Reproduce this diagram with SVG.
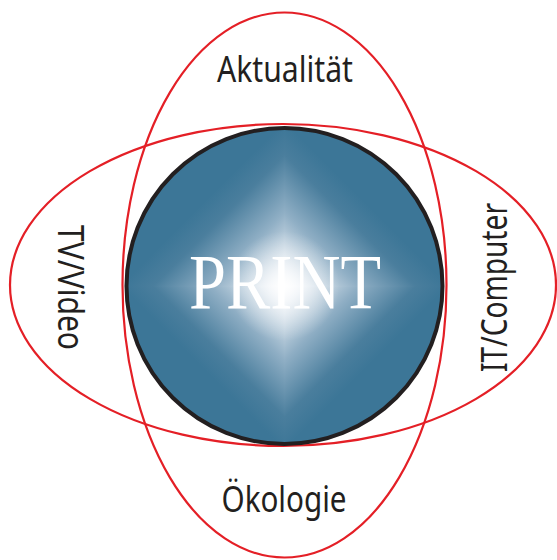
<svg xmlns="http://www.w3.org/2000/svg" width="557" height="560" viewBox="0 0 557 560">
<style>
.ring{fill:none;stroke:#e41f26;stroke-width:2.2}
.lbl{font-family:"Noto Sans","Liberation Sans",sans-serif;font-size:36px;fill:#231f20;text-anchor:middle}
.print{font-family:"Liberation Serif","DejaVu Serif",serif;font-size:78px;fill:#ffffff;text-anchor:middle}
</style>
<defs>
<clipPath id="cc"><circle cx="284.5" cy="286" r="158"/></clipPath>
<linearGradient id="gBR" gradientUnits="userSpaceOnUse" x1="284.5" y1="286" x2="366.5" y2="368">
<stop offset="0" stop-color="#ffffff"/><stop offset="0.12" stop-color="#e4ebf2"/><stop offset="0.45" stop-color="#90afc5"/><stop offset="0.8" stop-color="#4a7e9d"/><stop offset="1" stop-color="#3c7697"/>
</linearGradient>
<linearGradient id="gBL" gradientUnits="userSpaceOnUse" x1="284.5" y1="286" x2="202.5" y2="368">
<stop offset="0" stop-color="#ffffff"/><stop offset="0.12" stop-color="#e4ebf2"/><stop offset="0.45" stop-color="#90afc5"/><stop offset="0.8" stop-color="#4a7e9d"/><stop offset="1" stop-color="#3c7697"/>
</linearGradient>
<linearGradient id="gTR" gradientUnits="userSpaceOnUse" x1="284.5" y1="286" x2="366.5" y2="204">
<stop offset="0" stop-color="#ffffff"/><stop offset="0.12" stop-color="#e4ebf2"/><stop offset="0.45" stop-color="#90afc5"/><stop offset="0.8" stop-color="#4a7e9d"/><stop offset="1" stop-color="#3c7697"/>
</linearGradient>
<linearGradient id="gTL" gradientUnits="userSpaceOnUse" x1="284.5" y1="286" x2="202.5" y2="204">
<stop offset="0" stop-color="#ffffff"/><stop offset="0.12" stop-color="#e4ebf2"/><stop offset="0.45" stop-color="#90afc5"/><stop offset="0.8" stop-color="#4a7e9d"/><stop offset="1" stop-color="#3c7697"/>
</linearGradient>
<radialGradient id="glow" gradientUnits="userSpaceOnUse" cx="284.5" cy="286" r="55">
<stop offset="0" stop-color="#ffffff" stop-opacity="0.8"/><stop offset="1" stop-color="#ffffff" stop-opacity="0"/>
</radialGradient>
</defs>
<g id="rings">
<ellipse id="ring-vertical" class="ring" cx="284.5" cy="285" rx="162" ry="272.5"/>
<ellipse id="ring-horizontal" class="ring" cx="283" cy="285" rx="273" ry="161"/>
</g>
<g id="print">
<g clip-path="url(#cc)">
<rect x="284" y="285.5" width="161" height="161" fill="url(#gBR)"/>
<rect x="124" y="285.5" width="161" height="161" fill="url(#gBL)"/>
<rect x="284" y="125.5" width="161" height="161" fill="url(#gTR)"/>
<rect x="124" y="125.5" width="161" height="161" fill="url(#gTL)"/>
<circle cx="284.5" cy="286" r="55" fill="url(#glow)"/>
</g>
<circle cx="284.5" cy="286" r="158" fill="none" stroke="#231f20" stroke-width="4"/>
<text class="print" x="285" y="308" textLength="192" lengthAdjust="spacingAndGlyphs">PRINT</text>
</g>
<g id="aktualitaet"><text class="lbl" x="285" y="82" textLength="136" lengthAdjust="spacingAndGlyphs">Aktualität</text></g>
<g id="oekologie"><text class="lbl" x="284" y="512" textLength="125" lengthAdjust="spacingAndGlyphs">Ökologie</text></g>
<g id="tvvideo"><text class="lbl" x="58" y="287.5" transform="rotate(90 58 287.5)" textLength="125" lengthAdjust="spacingAndGlyphs">TV/Video</text></g>
<g id="itcomputer"><text class="lbl" x="507" y="287.5" transform="rotate(-90 507 287.5)" textLength="169" lengthAdjust="spacingAndGlyphs">IT/Computer</text></g>
</svg>
